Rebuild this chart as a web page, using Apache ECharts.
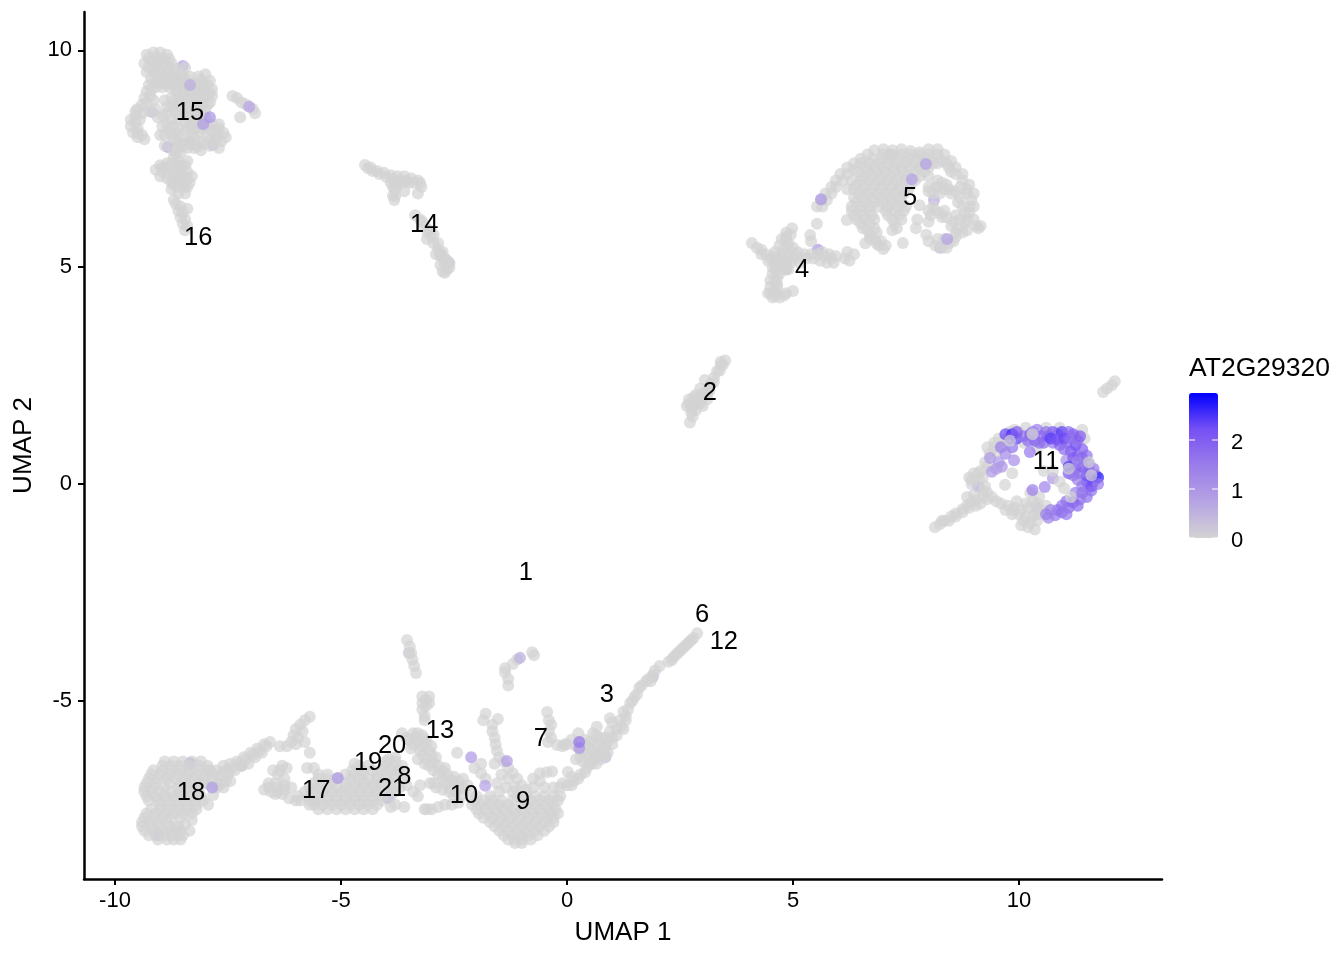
<!DOCTYPE html>
<html lang="en">
<head>
<meta charset="UTF-8">
<title>AT2G29320</title>
<style>
  * { padding: 0; margin: 0; }
  html, body { width: 100%; height: 100%; background: #fff; }
  #main { width: 1344px; height: 960px; }
</style>
<script src="https://cdn.jsdelivr.net/npm/echarts@6/dist/echarts.min.js"></script>
</head>
<body>
<div id="main"></div>
<script>
var xTicks = [-10, -5, 0, 5, 10];
var yTicks = [-5, 0, 5, 10];
var legendTicks = [0, 1, 2];

// x, y, expression - drawn under the grey cells
var coveredCells = [
  [-8.5,9.64,.8],[-8.38,9.2,.7],[-9.18,8.58,.5],[-8.34,7.89,.6],[-8.83,7.77,.9],[-7.83,7.82,.6],[-8.05,8.32,.8],
  [-2.62,5.1,.9],[-2.8,5.3,.6],[7.15,7.6,.6],[8.12,6.55,.7],[8.25,5.45,.5],[5.55,5.4,1],[4.85,4.95,.4],
  [-8.34,-6.44,1.5],[-9.05,-8.1,1],[-5.6,-7.3,.4],[-7.2,-6.5,.4],[-3.96,-7.24,1.2],[1.9,-4.45,.4],[.85,-6.3,.4],[-3.5,-3.9,.3],
  [9.1,-.05,.9],[10.4,-.55,.7]
];

var cells15 = [
  [-9.3,9.9],[-9.15,9.95],[-9,9.95],[-8.85,9.9],[-9.35,9.7],[-9.2,9.75],[-9.05,9.75],[-8.9,9.7],[-8.75,9.7],
  [-9.3,9.5],[-9.15,9.55],[-9,9.55],[-8.85,9.5],[-8.7,9.5],[-8.55,9.45],[-9.2,9.35],[-9.05,9.35],[-8.9,9.3],
  [-8.75,9.3],[-8.6,9.3],[-8.45,9.35],[-9.1,9.15],[-8.95,9.15],[-8.8,9.15],[-8.65,9.15],[-8.45,9.15],[-8.3,9.25],
  [-8.45,9.6],[-8.35,9.4],[-8.15,9.4],[-8,9.45],[-7.9,9.3],[-8.2,9.2],[-8.05,9.25],[-7.85,9.1],[-8.15,9.05],
  [-8,9.05],[-7.85,8.95],[-8.2,8.9],[-8.05,8.85],[-7.9,8.8],[-8.75,8.9],[-8.6,8.95],[-8.45,8.95],[-8.3,8.95],
  [-8.75,8.7],[-8.6,8.75],[-8.45,8.75],[-8.3,8.75],[-8.15,8.7],[-8,8.65],[-8.85,8.55],[-8.6,8.55],[-8.45,8.55],
  [-8.3,8.5],[-8.15,8.5],[-8,8.45],[-8.45,8.35],[-8.3,8.3],[-8.15,8.3],[-7.95,8.25],[-8.45,8.15],[-8.3,8.1],[-8.15,8.1],
  [-9.25,9.2],[-9.3,9.05],[-9.35,8.9],[-9.4,8.75],[-9.5,8.65],[-9.55,8.5],[-9.65,8.4],[-9.65,8.25],[-9.6,8.1],
  [-9.5,8],[-9.35,7.95],[-9.45,8.4],[-9.4,8.55],[-9.25,8.6],[-9.1,8.65],[-9.15,8.85],[-8.95,8.25],[-8.8,8.15],
  [-8.65,8.1],[-8.85,8.3],[-8.7,8.25],[-9,8.05],[-7.85,8.3],[-7.7,8.2],[-7.6,8.1],[-7.85,8.15],[-7.75,8],[-7.9,7.95],
  [-7.65,7.9],[-7.9,7.8],[-8.05,7.85],[-8.7,7.95],[-8.55,7.85],[-8.4,7.75],[-8.25,7.75],[-8.1,7.7],[-8.55,8],[-8.25,8],
  [-8.9,7.8],[-8.7,7.7],[-8.55,7.65],[-8.7,7.55],[-8.6,7.45],[-8.75,7.4],[-8.6,7.3],[-8.7,7.2],[-8.55,7.1],[-8.7,7],
  [-8.6,6.85],[-8.75,6.8],[-8.6,6.7],[-8.45,6.7],[-9,7.35],[-9.1,7.25],[-8.95,7.2],[-8.85,7.3],[-8.45,7.35],[-8.4,7.2],
  [-8.5,6.95],[-8.35,6.95],[-8.4,6.85],[-9,7.1],[-8.7,6.55],[-8.65,6.45],[-8.6,6.3],[-8.55,6.15],[-8.5,6],[-8.45,5.85],
  [-8.4,6.35],[-7.4,8.95],[-7.3,8.9],[-7.2,8.8],[-7.1,8.75],[-6.95,8.65],[-6.9,8.55],[-7.23,8.46],
  [-9.25,9.82],[-9.1,9.85],[-8.95,9.82],[-8.8,9.8],[-9.25,9.6],[-9.1,9.65],[-8.95,9.62],[-8.8,9.6],[-8.65,9.58],[-9.1,9.45],
  [-8.95,9.42],[-8.8,9.4],[-8.65,9.4],[-8.5,9.35],[-9.15,9.25],[-9,9.25],[-8.85,9.22],[-8.7,9.22],[-8.55,9.22],[-8.4,9.25],
  [-8.1,9.32],[-7.95,9.2],[-8.1,9.15],[-7.9,9.02],[-8.1,8.95],[-8,8.95],[-8.15,8.8],[-7.95,8.75],[-8.25,9.1],[-8.5,9.05],[-8.35,9.05],[-8.65,9.05],
  [-8.68,8.82],[-8.52,8.85],[-8.38,8.85],[-8.22,8.82],[-8.08,8.75],[-8.68,8.62],[-8.52,8.65],[-8.38,8.65],[-8.22,8.6],[-8.08,8.55],
  [-8.38,8.45],[-8.22,8.4],[-8.38,8.22],[-8.22,8.2],[-8.05,8.2],[-8.1,8.4],[-8.62,7.92],[-8.48,7.8],[-8.32,7.82],[-8.18,7.78],[-8.62,7.75],
  [-8.4,7.9],[-8.1,7.9],[-8.65,7.62],[-8.65,7.38],[-8.65,7.12],[-8.62,6.95],[-8.7,6.9],[-8.52,7.2],[-8.52,7.35],[-8.8,7.15],[-8.55,7.02],[-8.47,6.85],
  [-9.2,9.1],[-9.22,8.95],[-9.3,8.8],[-9.55,8.6],[-9.55,8.35],[-9.5,8.2],[-9.5,8.1],[-9.4,8.05],[-7.75,8.1],[-7.8,7.9],[-7.7,8.3],
  [-8.9,8.85],[-8.85,8.7],[-8.95,8.5],[-8.75,8.4],[-8.6,8.4],[-9.05,8.45],[-8.9,8.05],[-8.75,8.05],[-8.6,8.2],[-8.85,7.4],[-8.95,7.3],[-8.4,7.05],
  [-8.3,7.1],[-8.75,6.95],[-8.4,7.45],[-8.85,7.05],[-7.7,7.75],[-7.55,8],[-7.95,8.05],[-8.55,6.4],[-8.5,6.25],[-8.45,6.1],[-8.4,5.95]
];

var cells14 = [
  [-4.47,7.36],[-4.35,7.3],[-4.2,7.22],[-4.05,7.18],[-3.9,7.12],[-3.75,7.1],[-3.6,7.1],[-3.45,7.05],[-3.3,7],[-3.22,6.85],
  [-3.3,6.7],[-3.9,6.95],[-3.8,6.8],[-3.85,6.65],[-3.82,6.55],[-3.65,6.95],[-3.5,6.95],[-3.6,6.75],[-3.36,6.2],[-3.25,6.1],
  [-3.15,5.95],[-3.08,5.8],[-3,5.7],[-2.95,5.55],[-2.85,5.4],[-2.8,5.25],[-2.72,5.1],[-2.65,4.95],[-2.75,4.9],[-2.6,5.1],[-2.7,4.87],
  [-4.3,7.22],[-4.15,7.15],[-4,7.08],[-3.85,7.02],[-3.7,7],[-3.55,7],[-3.4,6.95],[-3.25,6.95],[-3.85,6.85],[-3.75,6.9],[-3.8,6.65],
  [-3.05,5.85],[-2.95,5.75],[-2.85,5.55],[-2.75,5.35],[-2.7,5.2],[-2.6,5],[-2.8,5.05],[-3.2,6.05],[-4.4,7.28],[-3.1,5.65],[-2.9,5.3],[-2.65,5.15]
];

var cells4 = [
  [4.09,5.56],[4.2,5.45],[4.3,5.4],[4.4,5.3],[4.5,5.2],[4.6,5.1],[4.55,5],[4.55,4.85],[4.5,4.7],[4.5,4.55],[4.45,4.4],[4.55,4.3],
  [4.7,4.3],[4.85,4.4],[5,4.45],[4.65,4.55],[4.65,4.75],[4.75,4.95],[4.7,5.1],[4.85,5.1],[4.75,5.3],[4.6,5.35],[4.7,5.5],[4.75,5.65],
  [4.85,5.8],[4.98,5.9],[4.9,5.55],[5,5.45],[5.1,5.35],[5.25,5.3],[5.4,5.3],[5.55,5.3],[5.7,5.25],[5.85,5.2],[5.9,5.1],[5.75,5.1],
  [5.6,5.15],[5,5.2],[5.15,5.1],[4.9,4.95],[5.2,5.2],[6.15,5.2],[6.25,5.15],[6.2,5.35],[6.35,5.3],
  [4.3,5.3],[4.45,5.15],[4.55,5.25],[4.65,5.2],[4.6,4.95],[4.65,4.6],[4.6,4.45],[4.6,4.7],[4.7,4.85],[4.8,5.2],[4.9,5.25],[4.8,5.4],
  [4.85,5.65],[4.8,5],[4.95,5.1],[5.05,5.3],[5.3,5.2],[5.45,5.2],[5.65,5.35],[5.8,5.3],[5.95,5.25],[4.5,4.4],[4.6,4.35],[4.8,4.35],
  [4.9,5.45],[4.95,5.75],[4.85,5.7]
];

var cells5 = [
  [5.53,6.4],[5.62,6.55],[5.72,6.7],[5.85,6.85],[5.95,7],[6.05,7.15],[6.2,7.3],[6.35,7.4],[6.5,7.5],[6.65,7.6],[6.8,7.7],[7,7.72],
  [7.2,7.7],[7.4,7.72],[7.6,7.68],[7.8,7.65],[8,7.72],[8.2,7.72],[8.35,7.6],[8.5,7.45],[8.6,7.3],[8.75,7.15],[8.45,7.3],[8.3,7.45],[8.1,7.5],
  [6.75,7.5],[6.95,7.5],[7.15,7.5],[7.35,7.5],[7.55,7.5],[7.75,7.5],[7.95,7.5],
  [6.6,7.3],[6.8,7.3],[7,7.3],[7.2,7.3],[7.4,7.3],[7.6,7.3],[7.8,7.3],[8,7.3],
  [6.55,7.1],[6.75,7.1],[6.95,7.1],[7.15,7.1],[7.35,7.1],[7.55,7.1],[7.8,7.1],[8,7.1],
  [6.4,6.9],[6.6,6.9],[6.8,6.9],[7,6.9],[7.2,6.9],[7.4,6.9],[7.6,6.9],
  [6.45,6.7],[6.65,6.7],[6.85,6.7],[7.05,6.7],[7.25,6.7],[7.45,6.7],
  [6.4,6.5],[6.6,6.5],[6.8,6.5],[7,6.5],[7.2,6.5],[7.4,6.5],
  [6.3,6.3],[6.5,6.3],[6.7,6.3],[7.05,6.3],[7.25,6.3],[7.45,6.3],
  [6.4,6.1],[6.6,6.1],[6.8,6.1],[7.2,6.1],[7.4,6.1],[6.55,5.9],[6.8,5.9],[7.3,5.9],
  [6.7,5.75],[6.8,5.65],[6.6,5.55],[6.9,5.5],[7.05,5.5],[6.85,5.8],[7.2,5.85],
  [8.3,6.95],[8.15,6.85],[8.45,6.8],[8.6,6.75],[8,6.75],[8.25,6.7],[8.1,6.4],[8,6.3],[8.25,6.25],[8.4,6.15],[8.55,6.05],[8.65,5.9],
  [8.75,5.8],[8.6,5.7],[8.45,5.55],[8.3,5.45],[8.15,5.5],[8,5.6],[7.95,5.75],[8.9,6.9],[8.85,6.7],[8.95,6.55],[8.75,6.4],[8.9,6.25],
  [8.85,6.1],[8.8,6],[9.05,5.95],[9.15,5.95],[8.7,6.6],[5.53,6],[5.38,5.74],[5.4,5.6],[7.72,5.9],[7.43,5.56],[7.8,6.43],[7.75,6.1],[8,6.05],[6.19,6.09],
  [7,7.6],[7.2,7.6],[7.4,7.6],[7.6,7.6],[7.8,7.6],[8,7.6],[8.2,7.6],
  [6.5,7.4],[6.7,7.4],[6.9,7.4],[7.1,7.4],[7.3,7.4],[7.5,7.4],[7.7,7.4],[7.9,7.4],[8.1,7.4],[8.2,7.4],[8.4,7.4],
  [6.45,7.2],[6.65,7.2],[6.85,7.2],[7.05,7.2],[7.25,7.2],[7.45,7.2],[7.7,7.2],[7.9,7.2],[8.5,7.2],
  [6.3,7],[6.5,7],[6.7,7],[6.9,7],[7.1,7],[7.3,7],[7.5,7],[7.7,7],
  [6.2,6.8],[6.35,6.8],[6.55,6.8],[6.75,6.8],[6.95,6.8],[7.15,6.8],[7.35,6.8],[7.55,6.8],
  [6.35,6.6],[6.55,6.6],[6.75,6.6],[6.95,6.6],[7.15,6.6],[7.35,6.6],
  [6.3,6.4],[6.5,6.4],[6.7,6.4],[6.9,6.4],[7.1,6.4],[7.3,6.4],[7.5,6.4],
  [6.35,6.2],[6.55,6.2],[6.75,6.2],[7.1,6.2],[7.35,6.2],[6.5,6],[6.7,6],[7.25,6],
  [5.65,6.4],[5.75,6.55],[5.85,6.7],[5.95,6.85],[6.1,7],[6.2,7.15],[6.35,7.25],
  [8.2,6.85],[8.35,6.8],[8.5,6.7],[8.1,6.7],[8.15,6.3],[8.05,6.2],[8.3,6.15],[8.5,5.95],[8.6,5.8],[8.55,5.6],[8.4,5.45],[8.85,6.8],[8.9,6.4],[9.1,5.9],[8,6.85],
  [6.7,5.65],[6.95,5.6],[6.85,5.55],[7,5.42],[6.65,5.85],
  [8.2,7],[8.4,6.9],[8.7,6.85],[9,6.4],[8.8,6.25],[8.7,6.1],[8.35,6.3],[8.6,6.2],[8.85,5.85],[8.2,5.65],[8.35,5.65],[8.75,7],[8.6,7.15],[8.65,6.5],[9,6.7],[9,6.1]
];

var cells2 = [
  [3.5,2.85],[3.4,2.75],[3.32,2.6],[3.25,2.45],[3.18,2.3],[3.1,2.15],[3.02,2],[2.95,1.85],[2.85,1.7],[2.78,1.55],[2.72,1.42],
  [2.7,1.95],[2.65,1.8],[2.85,2.05],[2.95,2.2],[3.05,2.4],[2.75,1.75],[2.9,1.95],[3.1,1.95],
  [3.45,2.75],[3.25,2.35],[3.1,2.05],[3,2.1],[2.9,1.85],[2.8,1.85],[2.8,2],[3,1.8],[2.75,1.65],[2.7,1.85],[2.95,2],[2.85,1.9],[3.15,2.15],[3.38,2.62],[3.4,2.82],
  [12.12,2.37],[12.05,2.28],[11.95,2.2],[11.86,2.12]
];

var cells11 = [
  [8.14,-1],[8.25,-.93],[8.35,-.85],[8.5,-.75],[8.6,-.68],[8.75,-.58],[8.85,-.5],[8.95,-.42],[9.05,-.38],[9.2,-.3],[9.3,-.2],[9.25,-.05],
  [9,-.25],[8.85,-.3],[8.95,0],[8.9,.15],[9,.25],[9.15,.3],[9.1,.1],[9.25,.5],[9.35,.7],[9.3,.85],[9.45,.95],[9.55,1.05],[9.7,.9],[9.5,.75],
  [9.69,-.02],[9.85,.25],[9.6,-.45],[9.75,-.5],[9.9,-.55],[10.05,-.6],[10.2,-.55],[10.15,-.75],[10.25,-.9],[10.2,-1],[10.35,-1.05],[10.4,-.85],
  [10.35,-.65],[10.3,-.4],[10.45,-.3],[10.5,-.6],[9.85,-.7],[9.95,-.4],[10.6,-.5],[10.25,-.2],[9.9,1.25],[10.15,1.3],[10.6,1.3],[10.9,1.3],
  [11.4,1.25],[11.25,1.1],[11.45,1.05],[10.4,.85],[10,1.2],[10.1,.95],
  [8.3,-.85],[8.45,-.85],[8.6,-.75],[8.75,-.65],[8.9,-.55],[9.05,-.5],[9.15,-.45],[9.3,-.35],[9.4,-.3],[9.5,-.4],[9.7,-.6],[9.85,-.6],[10,-.7],[10.1,-.85],
  [10.05,-.95],[10.3,-.75],[10.45,-.7],[10.15,-.45],[10.4,-.45],[9.2,-.15],[9.2,.15],[9.3,.4],[9.45,.85],[9.65,1],[9.1,.25],[8.95,.1],[9.8,1.2]
];

var cells18 = [
  [-8.9,-6.4],[-8.7,-6.4],[-8.5,-6.4],[-8.3,-6.4],[-8.1,-6.4],
  [-9.15,-6.6],[-8.95,-6.6],[-8.75,-6.6],[-8.55,-6.6],[-8.35,-6.6],[-8.15,-6.6],[-7.95,-6.6],
  [-9.25,-6.8],[-9.05,-6.8],[-8.85,-6.8],[-8.65,-6.8],[-8.45,-6.8],[-8.25,-6.8],[-8.05,-6.8],
  [-9.35,-7],[-9.15,-7],[-8.9,-7],[-8.6,-7],[-8.4,-7],[-8.2,-7],
  [-9.3,-7.2],[-9.1,-7.2],[-8.9,-7.2],[-8.7,-7.2],[-8.5,-7.2],[-8.3,-7.2],[-8.1,-7.2],
  [-9,-7.4],[-8.8,-7.4],[-8.6,-7.4],[-8.4,-7.4],[-8.2,-7.4],
  [-9.3,-7.6],[-9.1,-7.6],[-8.9,-7.6],[-8.7,-7.6],[-8.5,-7.6],[-8.3,-7.6],
  [-9.4,-7.8],[-9.25,-7.8],[-9.05,-7.8],[-8.85,-7.8],
  [-9.35,-8],[-9.15,-8],[-8.95,-8],[-8.75,-8],[-8.55,-8],
  [-9.05,-8.2],[-8.85,-8.2],[-8.7,-8.2],[-8.55,-8.2],
  [-8.3,-7.75],[-8.45,-7.85],[-8.35,-8],[-8.67,-7.93],[-7.94,-7.4],[-7.83,-7.17],
  [-7.9,-6.6],[-7.75,-6.6],[-7.6,-6.5],[-7.45,-6.45],[-7.3,-6.4],[-7.15,-6.3],[-7,-6.2],[-6.85,-6.1],[-6.7,-6],[-6.57,-5.95],
  [-7.85,-6.8],[-7.7,-6.75],[-7.5,-6.7],[-7.35,-6.6],[-7.2,-6.5],[-7.05,-6.45],[-6.9,-6.3],[-6.75,-6.2],[-7.65,-6.9],[-7.45,-6.85],
  [-7.9,-6.95],[-7.75,-7],[-7.6,-7],[-6.35,-6.05],[-6.2,-6.05],[-6.1,-5.95],[-6,-6],[-6.05,-5.8],[-6,-5.65],[-5.9,-5.55],[-5.8,-5.45],
  [-5.69,-5.37],[-5.85,-5.7],[-5.95,-5.85],[-5.8,-5.95],[-5.69,-6.2],[-5.75,-6.55],
  [-8.95,-6.5],[-8.75,-6.5],[-8.55,-6.5],[-8.35,-6.5],[-8.15,-6.5],[-7.95,-6.5],
  [-9.2,-6.7],[-9,-6.7],[-8.8,-6.7],[-8.6,-6.7],[-8.4,-6.7],[-8.2,-6.7],[-8,-6.7],
  [-9.3,-6.9],[-9.1,-6.9],[-8.8,-6.9],[-8.55,-6.9],[-8.35,-6.9],[-8.15,-6.9],[-8,-6.9],
  [-9.35,-7.1],[-9.2,-7.1],[-9,-7.1],[-8.75,-7.1],[-8.55,-7.1],[-8.35,-7.1],[-8.15,-7.1],
  [-9.25,-7.3],[-9.05,-7.3],[-8.85,-7.3],[-8.65,-7.3],[-8.45,-7.3],[-8.25,-7.3],[-8.05,-7.3],
  [-9.2,-7.5],[-9,-7.5],[-8.8,-7.5],[-8.6,-7.5],[-8.4,-7.5],[-8.2,-7.5],
  [-9.35,-7.7],[-9.15,-7.7],[-8.95,-7.7],[-8.75,-7.7],[-8.55,-7.7],
  [-9.4,-7.9],[-9.2,-7.9],[-9,-7.9],[-8.8,-7.9],[-8.6,-7.9],
  [-9.25,-8.1],[-9.1,-8.1],[-8.9,-8.1],[-8.75,-8.1],[-8.6,-8.1],[-8.5,-8.1],
  [-7.8,-6.7],[-7.6,-6.65],[-7.4,-6.55],[-7.25,-6.45],[-7.1,-6.35],[-6.95,-6.25],[-6.8,-6.15],[-6.65,-6.05],[-7.55,-6.85],[-7.7,-6.95],[-7.5,-6.6]
];

var cells17 = [
  [-6.7,-7.05],[-6.55,-7.1],[-6.4,-7.1],[-6.25,-7.05],[-6.1,-7],[-6.6,-6.9],[-6.45,-6.9],[-6.5,-6.6],[-6.4,-6.7],[-6.3,-6.5],[-6.2,-6.55],[-6.25,-6.8],
  [-5.5,-7.5],[-5.3,-7.5],[-5.1,-7.5],[-4.9,-7.5],[-4.7,-7.5],[-4.5,-7.5],[-4.3,-7.5],
  [-5.9,-7.3],[-5.7,-7.3],[-5.5,-7.3],[-5.3,-7.3],[-5.1,-7.3],[-4.9,-7.3],[-4.7,-7.3],[-4.5,-7.3],[-4.3,-7.3],[-4.1,-7.3],
  [-5.8,-7.1],[-5.6,-7.1],[-5.4,-7.1],[-5.2,-7.1],[-5,-7.1],[-4.8,-7.1],[-4.6,-7.1],[-4.4,-7.1],[-4.2,-7.1],[-4,-7.1],[-3.8,-7.1],
  [-5.6,-6.9],[-5.4,-6.9],[-5.2,-6.9],[-4.9,-6.9],[-4.7,-6.9],[-4.5,-6.9],[-4.3,-6.9],[-4.1,-6.9],[-3.9,-6.9],
  [-5.5,-6.7],[-5.3,-6.7],[-4.9,-6.7],[-4.7,-6.7],[-4.5,-6.7],[-4.2,-6.7],[-4,-6.7],[-3.8,-6.7],[-3.6,-6.7],
  [-4.6,-6.5],[-4.4,-6.5],[-4.05,-6.5],[-3.85,-6.5],[-3.65,-6.5],
  [-5.6,-6.55],[-4.7,-6.45],[-3.8,-6.3],[-3.95,-6.35],[-3.55,-6.95],[-3.4,-7.1],[-3.3,-7.2],[-3.25,-6.95],[-3.6,-7.45],[-3.8,-7.4],[-3.9,-7.45],[-6,-7.3],[-6.15,-7.25],
  [-5.7,-7.4],[-5.6,-7.4],[-5.4,-7.4],[-5.2,-7.4],[-5,-7.4],[-4.8,-7.4],[-4.6,-7.4],[-4.4,-7.4],[-4.2,-7.4],
  [-5.95,-7.2],[-5.7,-7.2],[-5.5,-7.2],[-5.3,-7.2],[-5.1,-7.2],[-4.9,-7.2],[-4.7,-7.2],[-4.5,-7.2],[-4.3,-7.2],[-4.1,-7.2],[-3.9,-7.2],
  [-5.7,-7],[-5.5,-7],[-5.3,-7],[-5.1,-7],[-4.9,-7],[-4.7,-7],[-4.5,-7],[-4.3,-7],[-4.1,-7],[-3.9,-7],[-3.7,-7],
  [-5.5,-6.8],[-5.3,-6.8],[-5.1,-6.8],[-4.8,-6.8],[-4.6,-6.8],[-4.4,-6.8],[-4.2,-6.8],[-4,-6.8],[-3.8,-6.8],[-3.6,-6.8],
  [-4.75,-6.6],[-4.55,-6.6],[-4.3,-6.6],[-4.1,-6.6],[-3.9,-6.6],[-3.7,-6.6],[-4,-6.4],[-3.8,-6.4],
  [-6.6,-7],[-6.4,-7],[-6.25,-6.95],[-6.45,-7.15],[-6.3,-7.15],[-6.35,-6.6]
];

var cells13 = [
  [-3.54,-3.6],[-3.48,-3.75],[-3.45,-3.9],[-3.42,-4.05],[-3.38,-4.2],[-3.34,-4.36],
  [-3.2,-4.9],[-3.05,-4.9],[-3.2,-5.05],[-3.05,-5.05],[-3.2,-5.2],[-3.15,-5.35],[-3.15,-5.45],
  [-3.65,-5.75],[-3.4,-5.75],[-3.2,-5.8],[-3.5,-5.9],[-3.3,-5.95],[-3.1,-5.95],[-3.45,-6.1],[-3.25,-6.15],[-3.05,-6.15],[-3.3,-6.35],[-3.1,-6.35],
  [-2.9,-6.3],[-3.05,-6.5],[-2.85,-6.5],[-2.7,-6.55],[-2.85,-6.7],[-2.65,-6.7],[-2.5,-6.75],[-2.7,-6.9],[-2.5,-6.9],[-2.3,-6.8],[-2.3,-7],[-2.45,-7.1],
  [-2.15,-7.1],[-2.43,-6.2],[-2.95,-6.9],[-3.15,-7.5],[-3,-7.5],[-2.85,-7.45],[-2.7,-7.4],[-2.55,-7.4],[-2.4,-7.35],[-3.1,-7.5],[-2.9,-7],[-2.75,-7.05],
  [-2.6,-7.1],[-2.5,-7.2],[-2.35,-7.2],[-3.03,-6.9],
  [-3.35,-5.85],[-3.15,-5.88],[-3.4,-6],[-3.2,-6.05],[-3,-6.05],[-3.2,-6.25],[-3,-6.25],[-3.15,-6.45],[-2.95,-6.42],[-2.95,-6.6],[-2.75,-6.62],[-2.75,-6.8],
  [-2.55,-6.82],[-2.4,-6.85],[-2.6,-7],[-2.4,-7],[-2.2,-6.95],[-3.12,-4.98],[-3.12,-5.12],[-3.55,-5.85],[-3.3,-5.75]
];

var cells9 = [
  [-2,-7.2],[-1.7,-7.2],[-.9,-7.2],[-.7,-7.2],[-.5,-7.2],[-.3,-7.2],[-.15,-7.2],
  [-2.1,-7.4],[-1.9,-7.4],[-1.7,-7.4],[-1.5,-7.4],[-1.3,-7.4],[-.9,-7.4],[-.7,-7.4],[-.5,-7.4],[-.3,-7.4],
  [-1.95,-7.6],[-1.75,-7.6],[-1.55,-7.6],[-1.35,-7.6],[-1.15,-7.6],[-.95,-7.6],[-.75,-7.6],[-.55,-7.6],[-.35,-7.6],[-.2,-7.6],
  [-1.7,-7.8],[-1.5,-7.8],[-1.3,-7.8],[-1.1,-7.8],[-.9,-7.8],[-.7,-7.8],[-.5,-7.8],[-.3,-7.8],
  [-1.5,-8],[-1.3,-8],[-1.1,-8],[-.9,-8],[-.7,-8],[-.5,-8],[-1.3,-8.2],[-1.15,-8.2],[-1,-8.2],[-.8,-8.2],
  [-1.8,-5.3],[-1.85,-5.45],[-1.65,-5.55],[-1.65,-5.7],[-1.6,-5.85],[-1.58,-6],[-1.55,-6.15],[-1.5,-6.3],[-1.4,-6.4],[-1.3,-6.55],[-1.2,-6.67],
  [-1.1,-6.8],[-1,-6.95],[-.9,-7.05],[-1.3,-6.8],[-1.45,-6.7],[-1.55,-6.9],[-1.35,-7],[-1.15,-7],[-1.53,-5.42],[-2.05,-6.55],[-1.9,-6.45],[-1.9,-6.67],
  [-1.8,-6.8],[-1.6,-6.45],[-.6,-6.67],[-.33,-6.63],[-.45,-6.65],[-.75,-6.8],
  [-2.05,-7.3],[-1.85,-7.3],[-1.65,-7.3],[-1.45,-7.3],[-1,-7.3],[-.8,-7.3],[-.6,-7.3],[-.4,-7.3],[-.2,-7.3],
  [-2,-7.5],[-1.8,-7.5],[-1.6,-7.5],[-1.4,-7.5],[-1.2,-7.5],[-1,-7.5],[-.8,-7.5],[-.6,-7.5],[-.4,-7.5],[-.25,-7.5],
  [-1.85,-7.7],[-1.65,-7.7],[-1.45,-7.7],[-1.25,-7.7],[-1.05,-7.7],[-.85,-7.7],[-.65,-7.7],[-.45,-7.7],[-.3,-7.7],
  [-1.6,-7.9],[-1.4,-7.9],[-1.2,-7.9],[-1,-7.9],[-.8,-7.9],[-.6,-7.9],[-.4,-7.9],
  [-1.4,-8.1],[-1.2,-8.1],[-1,-8.1],[-.85,-8.1],[-.65,-8.1],[-1.15,-8.28],[-1,-8.28],
  [-1.2,-7.1],[-1.1,-7.2],[-1.2,-7.3],[-.75,-7],[-.5,-7],[-.3,-7],[-.6,-6.85],[-1.5,-7.1]
];

var cells3 = [
  [-.15,-7],[0,-6.95],[.15,-6.85],[.3,-6.7],[.44,-6.55],[.6,-6.35],[.72,-6.2],[.85,-6.05],[1,-5.85],[1.1,-5.65],[1.17,-5.45],[1.25,-5.25],[1.4,-5.05],
  [1.5,-4.9],[1.6,-4.7],[1.75,-4.55],[1.9,-4.4],[2.05,-4.2],[2.32,-4.06],[2.4,-3.95],[2.5,-3.85],[2.6,-3.75],[2.7,-3.65],[2.8,-3.55],[2.88,-3.44],
  [.3,-6.15],[.5,-6.1],[.7,-6],[.85,-5.85],[.95,-5.7],[.5,-6.3],[.7,-6.2],[.9,-6.2],[.35,-6.4],[.65,-6.45],[.2,-6.35],[1,-5.5],[1.25,-5.65],[1.3,-5.35],
  [.25,-5.75],[0,-6],[-.05,-6],[-.22,-6.02],[-.1,-6.05],[.1,-5.9],[.4,-5.9],[.58,-5.75],[.3,-5.95],[.65,-5.8],[.66,-5.6],[.95,-5.4],[.02,-6.64],
  [-.44,-5.26],[-.4,-5.45],[-.35,-5.55],[-.4,-5.7],[-.35,-5.85],[-.42,-5.95],
  [-1.37,-4.25],[-1.37,-4.35],[-1.3,-4.5],[-1.3,-4.65],[-1.2,-4.15],[-1.1,-4.05],[-.77,-3.88],[-.73,-3.95],
  [.1,-6.95],[.25,-6.8],[.4,-6.65],[.55,-6.45],[.75,-6.35],[.85,-6.25],[1,-6],[1.1,-5.8],[1.2,-5.6],[1.3,-5.45],[1.35,-5.2],[1.45,-5],[1.55,-4.85],[1.65,-4.65],
  [1.8,-4.5],[1.85,-4.55],[1.95,-4.3],[2.45,-3.9],[2.55,-3.8],[2.65,-3.7],[2.75,-3.6],[2.35,-4],[2.25,-4.1],[.4,-6.2],[.6,-6.2],[.8,-6.1],[.9,-5.95],[.6,-6],
  [.5,-5.95],[.75,-5.85],[.2,-6.05],[.4,-6.05],[.65,-6.3],[.5,-6.45],[.3,-6.3],[.1,-6.75],[-.1,-6.9]
];

// x, y, expression - drawn over the grey cells
var expressedCells = [
  [-8.34,9.2,.6],[-7.9,8.46,1.1],[-8.05,8.3,.9],[-7.03,8.7,.8],
  [5.62,6.57,1],[7.94,7.38,.8],[7.63,7.03,.8],[8.41,5.65,.8],
  [-7.85,-7,.9],[-5.07,-6.78,1],[-2.12,-6.3,1],[-1.33,-6.39,.9],[-1.81,-6.96,.8],[.27,-6.09,1],[.27,-5.95,1.6],[-1.04,-4.01,.6],
  [9.7,1.15,2.3],[9.85,1.15,2.6],[9.95,1.05,2.4],[10.1,1.1,1.6],[10.25,1.15,1.9],[10.4,1.25,1.5],[10.5,1.1,2],[10.55,.95,1.8],[10.65,1.1,2.2],
  [10.75,1.2,2.2],[10.85,1.15,1.8],[10.95,1.2,2.4],[11.1,1.2,1.8],[11.2,1.15,1.9],[10.35,1,2],[10.75,.95,1.5],[10.9,.9,1.9],[11.05,.95,1.5],
  [11.25,.9,2.3],[11.4,.8,2],[11.5,.65,1.7],[11.3,.65,1.6],[11.15,.75,2.2],[11.05,.55,1.2],[11.1,.25,2.2],[11.25,.35,2],[11.4,.4,2.3],[11.55,.3,1.7],
  [11.7,.2,1.6],[11.65,.05,2],[11.5,.05,2.5],[11.75,.15,2.7],[11.3,.1,1.5],[11.4,-.05,1.6],[11.6,-.15,1.7],[11.5,-.3,1.7],[11.35,-.35,1.5],
  [11.2,-.42,1.8],[11.1,-.55,1.9],[10.95,-.65,1.7],[10.8,-.72,1.6],[10.65,-.78,1.4],[9.6,.85,1.5],[9.85,.85,1.7],[10.3,-.14,1.5],[10.57,-.07,1.4],
  [10.75,.13,1],[9.4,.28,1],[9.62,.4,1.1],[9.36,.6,1],[9.89,.55,1.2],[10.24,.74,1.6],
  [9.8,1.05,2.2],[9.95,1.2,2],[10.2,1,1.8],[10.3,1.2,1.4],[10.45,.95,1.7],[10.6,1.2,1.7],[10.7,1.05,2.4],[10.85,1.02,2.2],[11,1.05,2.3],[11.15,1.05,1.7],
  [11.3,1,1.7],[11.35,1.1,2],[11,.8,1.8],[11.2,.6,2],[11.4,.6,1.9],[11.55,.45,1.8],[11.1,.4,2.4],[11.3,.5,1.4],[11.5,.2,2.2],[11.65,.35,1.6],[11.35,.25,1.7],
  [11.2,.2,1.6],[11.6,-.05,2.2],[11.75,0,1.6],[11.4,-.2,1.7],[11.25,-.2,1.5],[11.05,-.4,1.8],[10.95,-.5,1.6],[10.85,-.6,1.7],[10.7,-.6,1.4],[10.6,-.7,1.5],
  [11.3,-.5,1.8],[11.05,-.7,1.6],[9.55,.5,1],[9.5,.35,.9],[9.7,.7,1.3]
];

// grey cells that sit on top of the purple ones in cluster 11
var topGreyCells = [
  [11.55,.5],[11.6,.2],[11.1,.35],[10.9,.05],[11,-.1],[11.15,-.3],[10.75,.3],[10.55,.3],[10.3,1.15],[9.8,1]
];

var clusterLabels = [
  ['1',-.91,-2.05],['2',3.16,2.09],['3',.88,-4.87],['4',5.2,4.93],['5',7.59,6.59],['6',2.99,-3.03],['7',-.58,-5.88],
  ['8',-3.6,-6.76],['9',-.97,-7.34],['10',-2.28,-7.2],['11',10.6,.5],['12',3.47,-3.65],['13',-2.81,-5.7],['14',-3.16,5.97],
  ['15',-8.34,8.55],['16',-8.16,5.67],['17',-5.55,-7.08],['18',-8.32,-7.13],['19',-4.4,-6.44],['20',-3.87,-6.05],['21',-3.87,-7.04]
];

var FONT = '"Liberation Sans", Arial, sans-serif';

function grey(list) {
  return list.map(function (c) { return [c[0], c[1], 0]; });
}

var greyCells = [].concat(cells15, cells14, cells4, cells5, cells2, cells11, cells18, cells17, cells13, cells9, cells3);
var allCells = [].concat(coveredCells, grey(greyCells), expressedCells, grey(topGreyCells));

var myChart = echarts.init(document.getElementById('main'), null, { renderer: 'canvas' });

function axisBase(ticks) {
  return {
    type: 'value',
    nameLocation: 'middle',
    nameTextStyle: { color: '#000', fontSize: 26, fontFamily: FONT },
    axisLine: { show: true, onZero: false, lineStyle: { color: '#000', width: 2.5 } },
    axisTick: { show: true, length: 6, lineStyle: { color: '#000', width: 2 }, customValues: ticks },
    axisLabel: { color: '#000', fontSize: 22, fontFamily: FONT, customValues: ticks },
    splitLine: { show: false }
  };
}

var xAxis = axisBase(xTicks);
xAxis.name = 'UMAP 1';
xAxis.nameGap = 41;
xAxis.min = -10.686;
xAxis.max = 13.164;
xAxis.axisLabel.margin = 11;

var yAxis = axisBase(yTicks);
yAxis.name = 'UMAP 2';
yAxis.nameGap = 46;
yAxis.min = -9.11;
yAxis.max = 10.886;
yAxis.axisLabel.margin = 12;

var legendGraphics = [{
  type: 'text', left: 1189, top: 355,
  style: { text: 'AT2G29320', fill: '#000', font: '26.5px ' + FONT }
}];
legendTicks.forEach(function (t) {
  var py = 538 - t * 49;
  legendGraphics.push({
    type: 'text', left: 1231, top: py - 8,
    style: { text: String(t), fill: '#000', font: '22px ' + FONT }
  });
  legendGraphics.push({ type: 'rect', z: 100, shape: { x: 1189, y: py - 0.5, width: 6, height: 1 }, style: { fill: '#fff' } });
  legendGraphics.push({ type: 'rect', z: 100, shape: { x: 1212, y: py - 0.5, width: 6, height: 1 }, style: { fill: '#fff' } });
});

myChart.setOption({
  animation: false,
  backgroundColor: '#fff',
  textStyle: { fontFamily: FONT },
  grid: { left: 84, top: 12, width: 1078, height: 867, containLabel: false },
  xAxis: xAxis,
  yAxis: yAxis,
  visualMap: {
    type: 'continuous',
    show: true,
    seriesIndex: 0,
    dimension: 2,
    min: 0,
    max: 2.96,
    calculable: false,
    hoverLink: false,
    left: 1189,
    top: 393,
    padding: 0,
    itemWidth: 29,
    itemHeight: 145,
    inRange: { color: ['#D3D3D3', '#B6A3E3', '#9A7DEA', '#7650F4', '#0000FF'] }
  },
  graphic: legendGraphics,
  series: [{
    type: 'scatter',
    data: allCells,
    symbolSize: 12,
    itemStyle: { opacity: 0.7 },
    large: false,
    silent: true,
    animation: false
  }, {
    type: 'scatter',
    data: clusterLabels.map(function (l) { return { name: l[0], value: [l[1], l[2]] }; }),
    symbolSize: 0,
    z: 10,
    silent: true,
    itemStyle: { opacity: 1 },
    label: {
      show: true,
      position: 'inside',
      formatter: '{b}',
      color: '#000',
      fontSize: 25.5,
      fontFamily: FONT
    }
  }]
});
</script>
</body>
</html>
